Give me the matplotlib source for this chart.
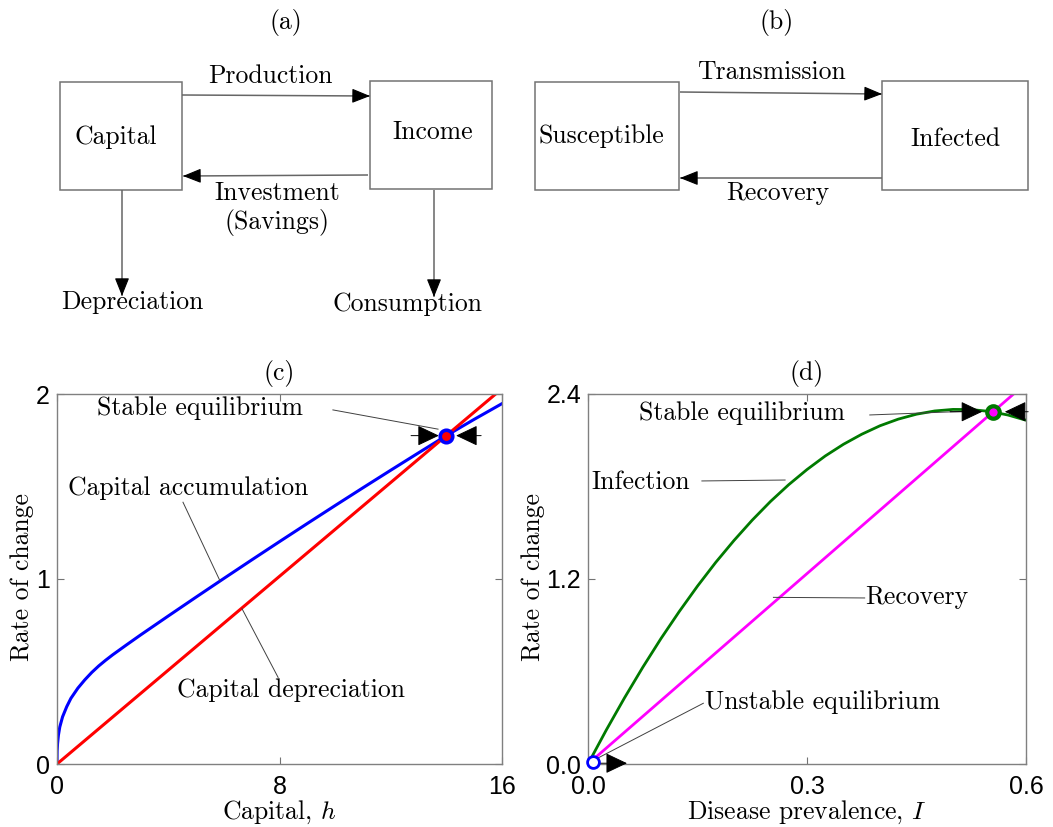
import matplotlib
matplotlib.use('Agg')
import matplotlib.pyplot as plt
from matplotlib.patches import Rectangle

plt.rcParams['mathtext.fontset'] = 'cm'
plt.rcParams['axes.unicode_minus'] = False

SERIF = 'cmr10'
SANS = 'Liberation Sans'
FS = 18.5    # serif text size
TFS = 18     # tick label size

# ---- panel (c): capital model ----
capital_h = [0, 0.005, 0.02, 0.05, 0.1, 0.2, 0.35, 0.5, 0.75, 1.0, 1.25, 1.5, 1.75,
             2.0, 2.5, 3.0, 4.0, 5.0, 6.0, 7.0, 8.0, 9.0, 10.0, 11.0, 12.0, 13.0,
             14.0, 15.0, 16.0]
accumulation = [0, 0.07, 0.11, 0.155, 0.2, 0.255, 0.31, 0.355, 0.41, 0.455, 0.495,
                0.53, 0.561, 0.59, 0.644, 0.697, 0.80, 0.902, 1.003, 1.103, 1.202,
                1.30, 1.397, 1.493, 1.588, 1.682, 1.775, 1.863, 1.948]
depreciation_h = [0, 16]
depreciation = [0, 2.029]
eq_capital = (14.0, 1.775)

# ---- panel (d): SIS model ----
prevalence = [0, 0.025, 0.05, 0.075, 0.1, 0.125, 0.15, 0.175, 0.2, 0.225, 0.25, 0.275,
              0.3, 0.325, 0.35, 0.375, 0.4, 0.425, 0.45, 0.475, 0.5, 0.525, 0.55,
              0.575, 0.6]
infection = [0, 0.220, 0.429, 0.627, 0.814, 0.989, 1.154, 1.308, 1.450, 1.582, 1.703,
             1.812, 1.910, 1.998, 2.074, 2.139, 2.194, 2.237, 2.269, 2.290, 2.300,
             2.299, 2.287, 2.264, 2.230]
recovery_I = [0, 0.6]
recovery = [0, 2.47]
eq_stable = (0.555, 2.285)
eq_unstable = (0.007, 0.015)

c_xticks = [0, 8, 16]
c_yticks = [0, 1, 2]
d_xticks = [0, 0.3, 0.6]
d_xlabels = ['0.0', '0.3', '0.6']
d_yticks = [0, 1.2, 2.4]
d_ylabels = ['0.0', '1.2', '2.4']

W, H = 1053, 827
fig = plt.figure(figsize=(W / 100, H / 100), dpi=100)

# overlay axes in pixel units for the two flow diagrams
ov = fig.add_axes([0, 0, 1, 1])
ov.set_xlim(0, W)
ov.set_ylim(H, 0)
ov.axis('off')

BOX_EC = '0.45'
LINE_C = '0.4'


def box(x0, y0, x1, y1):
    ov.add_patch(Rectangle((x0, y0), x1 - x0, y1 - y0, fill=False, ec=BOX_EC, lw=1.1))


def flow(x0, y0, x1, y1):
    ov.plot([x0, x1], [y0, y1], color=LINE_C, lw=1.1, solid_capstyle='butt')
    # short black head at the end
    hx = x1 - (x1 - x0) * 0.06 if x0 != x1 else x1
    hy = y1 - (y1 - y0) * 0.12 if y0 != y1 else y1
    ov.annotate('', xy=(x1, y1), xytext=(hx, hy),
                arrowprops=dict(arrowstyle='-|>,head_length=0.75,head_width=0.3',
                                color='black', lw=0.8, mutation_scale=15,
                                shrinkA=0, shrinkB=0))


def label(x, y, s, **kw):
    ov.text(x, y, s, family=SERIF, fontsize=FS, ha='center', va='center', **kw)


# (a)
label(286, 22, '(a)')
box(60, 82, 182, 190)
box(370, 81, 492, 189)
label(116, 137, 'Capital')
label(433, 132, 'Income')
flow(182, 95, 370, 96)
label(270, 76, 'Production')
flow(368, 175, 183, 176)
label(277, 193, 'Investment')
label(277, 222, '(Savings)')
flow(122, 190, 122, 296)
label(132, 302, 'Depreciation')
flow(434, 190, 434, 297)
label(408, 304, 'Consumption')

# (b)
label(777, 22, '(b)')
box(535, 82, 679, 190)
box(882, 81, 1028, 190)
label(601, 136, 'Susceptible')
label(955, 139, 'Infected')
flow(680, 92, 882, 94)
label(771, 72, 'Transmission')
flow(882, 178, 680, 178)
label(778, 193, 'Recovery')


def style_axes(ax):
    for sp in ax.spines.values():
        sp.set_color('0.5')
        sp.set_linewidth(1.0)
    ax.tick_params(direction='in', length=5, width=0.8, color='0.45',
                   top=True, right=True, labelsize=TFS)
    ax.tick_params(axis='x', pad=8)
    ax.tick_params(axis='y', pad=5)
    for t in ax.get_xticklabels() + ax.get_yticklabels():
        t.set_family(SANS)


def leader(ax, p0, p1):
    ax.plot([p0[0], p1[0]], [p0[1], p1[1]], color='0.25', lw=0.7, clip_on=False)


def head(ax, tail, tip):
    ax.annotate('', xy=tip, xytext=tail,
                arrowprops=dict(arrowstyle='-|>,head_length=0.8,head_width=0.38',
                                color='black', lw=0.7, mutation_scale=17,
                                shrinkA=0, shrinkB=0), zorder=6)


def axis_labels(ax, xlab, ylab, ylab_x):
    ax.set_xlabel(xlab, family=SERIF, fontsize=FS, va='center')
    ax.xaxis.set_label_coords(0.5, (764 - 812) / 370)
    ax.set_ylabel(ylab, family=SERIF, fontsize=FS, va='center')
    ax.yaxis.set_label_coords(ylab_x, (764 - 577) / 370)


# ---- (c) ----
axc = fig.add_axes([57 / W, (H - 764) / H, 445 / W, 370 / H])
axc.plot(capital_h, accumulation, color='#0000ff', lw=2.2)
axc.plot(depreciation_h, depreciation, color='#ff0000', lw=2.2)
axc.set_xlim(0, 16)
axc.set_ylim(0, 2)
axc.set_xticks(c_xticks)
axc.set_yticks(c_yticks)
style_axes(axc)
axc.set_title('(c)', family=SERIF, fontsize=FS, pad=10)
axis_labels(axc, 'Capital, $h$', 'Rate of change', (22 - 57) / 445)
head(axc, (12.73, 1.775), (13.73, 1.775))
head(axc, (15.25, 1.775), (14.35, 1.775))
axc.plot(*eq_capital, 'o', ms=9, mfc='#ff0000', mec='#0000ff', mew=2.6, zorder=7)
axc.text(1.44, 1.924, 'Stable equilibrium', family=SERIF, fontsize=FS, va='center')
leader(axc, (9.92, 1.914), (13.7, 1.81))
axc.text(0.40, 1.49, 'Capital accumulation', family=SERIF, fontsize=FS, va='center')
leader(axc, (4.53, 1.415), (5.86, 0.99))
axc.text(4.31, 0.40, 'Capital depreciation', family=SERIF, fontsize=FS, va='center')
leader(axc, (7.95, 0.468), (6.65, 0.84))

# ---- (d) ----
axd = fig.add_axes([588 / W, (H - 764) / H, 438 / W, 370 / H])
axd.plot(prevalence, infection, color='#007a00', lw=2.0)
axd.plot(recovery_I, recovery, color='#ff00ff', lw=2.0)
axd.set_xlim(0, 0.6)
axd.set_ylim(0, 2.4)
axd.set_xticks(d_xticks)
axd.set_xticklabels(d_xlabels)
axd.set_yticks(d_yticks)
axd.set_yticklabels(d_ylabels)
style_axes(axd)
axd.set_title('(d)', family=SERIF, fontsize=FS, pad=10)
axis_labels(axd, 'Disease prevalence, $I$', 'Rate of change', (533 - 588) / 438)
axd.text(0.070, 2.277, 'Stable equilibrium', family=SERIF, fontsize=FS, va='center')
leader(axd, (0.386, 2.264), (0.530, 2.29))
head(axd, (0.496, 2.285), (0.540, 2.285))
head(axd, (0.603, 2.285), (0.571, 2.285))
axd.plot(*eq_stable, 'o', ms=9, mfc='#ff00ff', mec='#007a00', mew=3, zorder=7)
axd.text(0.005, 1.831, 'Infection', family=SERIF, fontsize=FS, va='center')
leader(axd, (0.156, 1.836), (0.270, 1.842))
axd.text(0.379, 1.083, 'Recovery', family=SERIF, fontsize=FS, va='center')
leader(axd, (0.379, 1.077), (0.254, 1.081))
axd.text(0.160, 0.404, 'Unstable equilibrium', family=SERIF, fontsize=FS, va='center')
leader(axd, (0.158, 0.394), (0.0137, 0.039))
head(axd, (0.0164, 0.005), (0.0534, 0.005))
axd.plot(*eq_unstable, 'o', ms=8.5, mfc='white', mec='#0000ff', mew=2, zorder=7,
         clip_on=False)

fig.savefig('out.png', dpi=100)
